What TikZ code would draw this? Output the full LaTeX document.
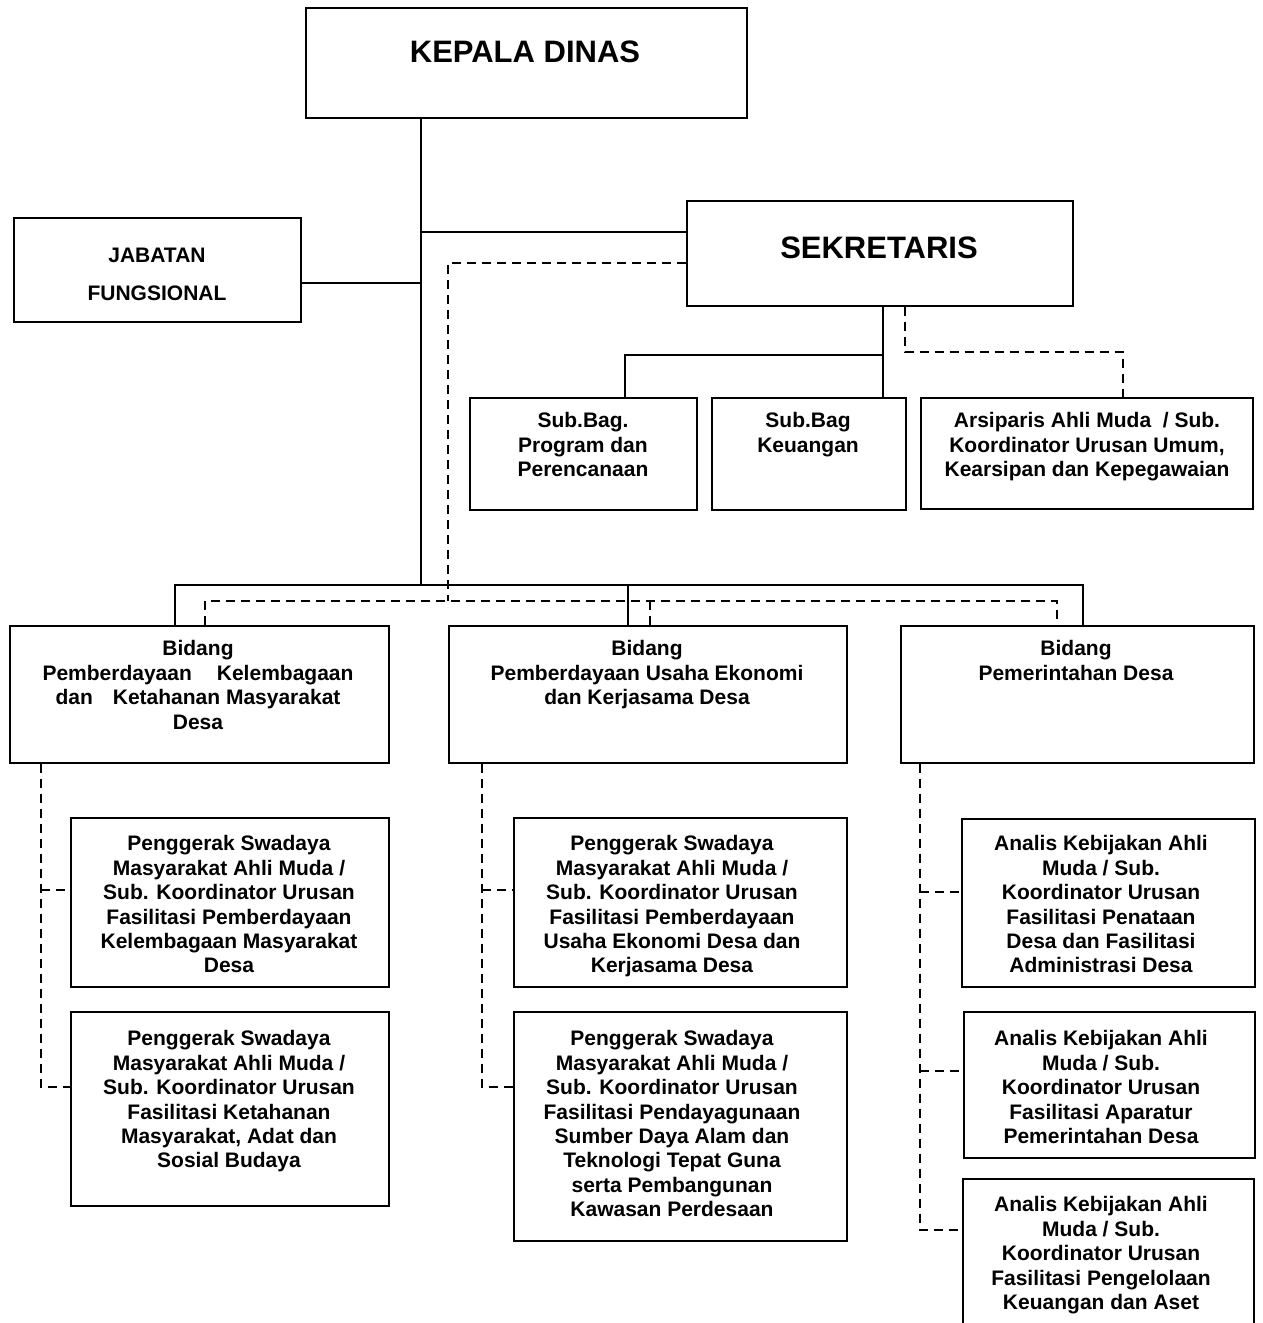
\documentclass[tikz,border=0pt]{standalone}
\usepackage{fontspec}
\setmainfont{Liberation Sans}
\begin{document}
\begin{tikzpicture}[x=1pt,y=-1pt,
  box/.style={draw, line width=1.7pt, rectangle, inner sep=0pt, anchor=north west},
  conn/.style={line width=1.7pt},
  dconn/.style={line width=1.5pt, dash pattern=on 9pt off 6pt},
  txt/.style={font=\bfseries\fontsize{21}{24.4}\selectfont, align=center, inner sep=0pt, anchor=north},
  big/.style={font=\bfseries\fontsize{31}{36}\selectfont, inner sep=0pt, anchor=north}]
\clip (0,0) rectangle (1262,1323);
\fill[white] (0,0) rectangle (1262,1323);
\newcommand\mybox[5]{\node[box, minimum width={#4-#2}, minimum height={#5-#3}] (#1) at (#2,#3) {};}
% boxes
\mybox{kepala}{305}{7}{746}{117}
\mybox{sek}{686}{200}{1072}{305}
\mybox{jab}{13}{217}{300}{321}
\mybox{sbone}{469}{397}{696}{509}
\mybox{sbtwo}{711}{397}{905}{509}
\mybox{ars}{920}{397}{1252}{508}
\mybox{bdone}{9}{625}{388}{762}
\mybox{bdtwo}{448}{625}{846}{762}
\mybox{bdthree}{900}{625}{1253}{762}
\mybox{aone}{70}{817}{388}{986}
\mybox{atwo}{70}{1011}{388}{1205}
\mybox{bone}{513}{817}{846}{986}
\mybox{btwo}{513}{1011}{846}{1240}
\mybox{cone}{961}{818}{1254}{986}
\mybox{ctwo}{963}{1011}{1254}{1157}
\mybox{cthree}{962}{1178}{1253}{1345}
% texts
\node[big] (kepalat) at (525,41) {KEPALA DINAS};
\node[big] (sekt) at (879,237) {SEKRETARIS};
\node[txt, font=\bfseries\fontsize{21}{38}\selectfont] (jabt) at (157,247.5) {JABATAN\\FUNGSIONAL};
\node[txt] (sbonet) at (583,412.5) {Sub.Bag.\\Program dan\\Perencanaan};
\node[txt] (sbtwot) at (808,412.5) {Sub.Bag\\Keuangan};
\node[txt] (arst) at (1087,412.5) {Arsiparis Ahli Muda~ / Sub.\\Koordinator Urusan Umum,\\Kearsipan dan Kepegawaian};
\node[txt] (bdonet) at (198,640.5) {Bidang\\Pemberdayaan\hspace{25pt}Kelembagaan\\dan\hspace{20pt}Ketahanan Masyarakat\\Desa};
\node[txt] (bdtwot) at (647,640.5) {Bidang\\Pemberdayaan Usaha Ekonomi\\dan Kerjasama Desa};
\node[txt] (bdthreet) at (1076,640.5) {Bidang\\Pemerintahan Desa};
\node[txt] (aonet) at (229,835.5) {Penggerak Swadaya\\Masyarakat Ahli Muda /\\Sub. Koordinator Urusan\\Fasilitasi Pemberdayaan\\Kelembagaan Masyarakat\\Desa};
\node[txt] (atwot) at (229,1030.5) {Penggerak Swadaya\\Masyarakat Ahli Muda /\\Sub. Koordinator Urusan\\Fasilitasi Ketahanan\\Masyarakat, Adat dan\\Sosial Budaya};
\node[txt] (bonet) at (672,835.5) {Penggerak Swadaya\\Masyarakat Ahli Muda /\\Sub. Koordinator Urusan\\Fasilitasi Pemberdayaan\\Usaha Ekonomi Desa dan\\Kerjasama Desa};
\node[txt] (btwot) at (672,1030.5) {Penggerak Swadaya\\Masyarakat Ahli Muda /\\Sub. Koordinator Urusan\\Fasilitasi Pendayagunaan\\Sumber Daya Alam dan\\Teknologi Tepat Guna\\serta Pembangunan\\Kawasan Perdesaan};
\node[txt] (conet) at (1101,835.5) {Analis Kebijakan Ahli\\Muda / Sub.\\Koordinator Urusan\\Fasilitasi Penataan\\Desa dan Fasilitasi\\Administrasi Desa};
\node[txt] (ctwot) at (1101,1030.5) {Analis Kebijakan Ahli\\Muda / Sub.\\Koordinator Urusan\\Fasilitasi Aparatur\\Pemerintahan Desa};
\node[txt] (cthreet) at (1101,1196.5) {Analis Kebijakan Ahli\\Muda / Sub.\\Koordinator Urusan\\Fasilitasi Pengelolaan\\Keuangan dan Aset};
% junction coordinates
\coordinate (trunk) at (421,585);
\coordinate (jsek) at (421,232);
\coordinate (jjab) at (421,283);
\coordinate (bsa) at (175,585);
\coordinate (bsb) at (628,585);
\coordinate (bsc) at (1083,585);
\coordinate (dsek) at (448,263);
\coordinate (dbus) at (448,601);
\coordinate (dba) at (205,601);
\coordinate (dbb) at (650,601);
\coordinate (dbc) at (1057,601);
\coordinate (ssplit) at (883,355);
\coordinate (sleft) at (625,355);
\coordinate (dsa) at (905,352);
\coordinate (dsb) at (1123,352);
\coordinate (ca) at (41,890);
\coordinate (cb) at (41,1087);
\coordinate (cc) at (482,890);
\coordinate (cd) at (482,1087);
\coordinate (ce) at (920,892);
\coordinate (cf) at (920,1071);
\coordinate (cg) at (920,1230);
% solid connectors
\draw[conn] (trunk |- kepala.south) -- (trunk);
\draw[conn] (jsek) -- (jsek -| sek.west);
\draw[conn] (jab.east |- jjab) -- (jjab);
\draw[conn] (bsa |- bdone.north) -- (bsa) -- (bsc) -- (bsc |- bdthree.north);
\draw[conn] (bsb) -- (bsb |- bdtwo.north);
\draw[conn] (ssplit |- sek.south) -- (ssplit |- sbtwo.north);
\draw[conn] (sleft |- sbone.north) -- (sleft) -- (ssplit);
% dashed connectors
\draw[dconn] (dsek -| sek.west) -- (dsek) -- (dbus);
\draw[dconn] (dba |- bdone.north) -- (dba) -- (dbc) -- (dbc |- bdthree.north);
\draw[dconn] (dbb) -- (dbb |- bdtwo.north);
\draw[dconn] (dsa |- sek.south) -- (dsa) -- (dsb) -- (dsb |- ars.north);
\draw[dconn] (ca |- bdone.south) -- (cb) -- (cb -| atwo.west);
\draw[dconn] (ca) -- (ca -| aone.west);
\draw[dconn] (cc |- bdtwo.south) -- (cd) -- (cd -| btwo.west);
\draw[dconn] (cc) -- (cc -| bone.west);
\draw[dconn] (ce |- bdthree.south) -- (cg) -- (cg -| cthree.west);
\draw[dconn] (ce) -- (ce -| cone.west);
\draw[dconn] (cf) -- (cf -| ctwo.west);
\end{tikzpicture}
\end{document}
